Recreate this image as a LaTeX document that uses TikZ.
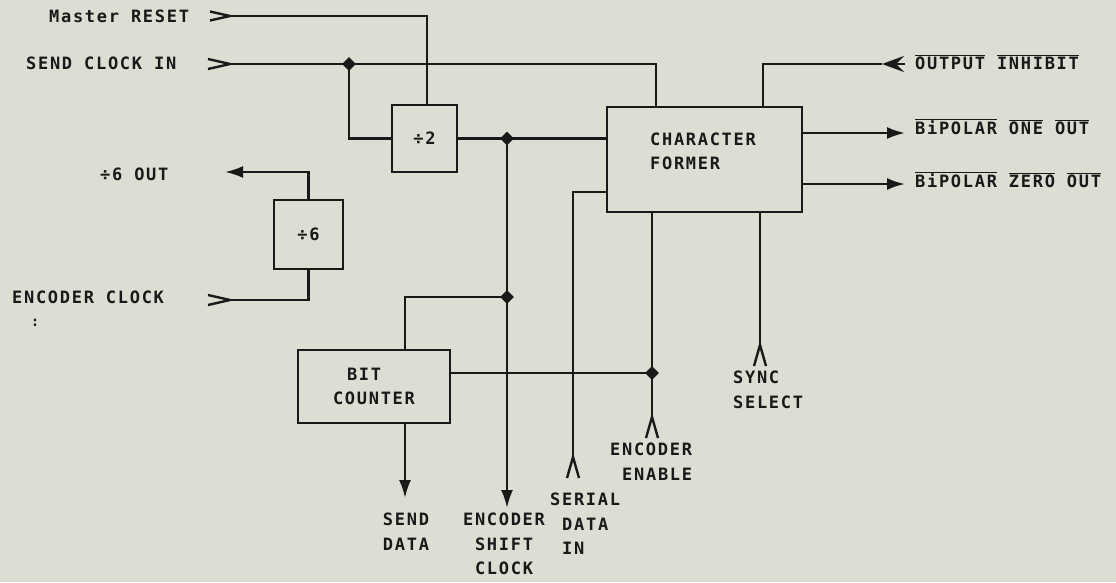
\documentclass[tikz,border=0pt]{standalone}
\usepackage{fontspec}
\setmainfont{DejaVu Sans Mono}[LetterSpace=10]
\usetikzlibrary{arrows.meta,shapes.geometric,calc}
\definecolor{paper}{RGB}{220,222,212}
\definecolor{ink}{RGB}{25,25,25}
\newcommand{\lblfont}{\fontsize{17}{24.5}\selectfont\bfseries}
\newcommand{\ovl}[1]{$\overline{\mbox{#1}}$}
\begin{document}
\begin{tikzpicture}[x=1pt,y=-1pt,
  wire/.style={draw=ink,line width=2.4pt},
  thinwire/.style={draw=ink,line width=1.4pt},
  blk/.style={draw=ink,line width=2.4pt,rectangle,inner sep=0pt,outer sep=0pt,font=\lblfont,text=ink},
  lbl/.style={font=\lblfont,text=ink,inner sep=0pt},
  jdot/.style={diamond,fill=ink,inner sep=0pt,minimum size=14pt},
  outarr/.style={-{Latex[length=18pt,width=12pt]}},
  inarr/.style={-{Stealth[length=22pt,width=16pt,inset=8pt]}},
]
\fill[paper] (0,0) rectangle (1116,582);
\useasboundingbox (0,0) rectangle (1116,582);

% blocks
\node[blk,minimum width=65pt,minimum height=67pt] (div2) at (424.5,138.5) {÷2};
\node[blk,minimum width=69pt,minimum height=69pt] (div6) at (308.5,234.5) {÷6};
\node[blk,minimum width=195pt,minimum height=105pt] (cf) at (704.5,159.5) {};
\node[lbl,align=left] (cftext) at (703,151.5) {CHARACTER\\FORMER};
\node[blk,minimum width=152pt,minimum height=73pt,align=left] (bc) at (374,386.5) {\hspace*{14pt}BIT\\COUNTER};

% labels
\node[lbl,anchor=base west] (mr) at (49,22) {Master RESET};
\node[lbl,anchor=base west] (sc) at (26,69) {SEND CLOCK IN};
\node[lbl,anchor=base west] (ec) at (12,303) {ENCODER CLOCK};
\node[lbl,font=\fontsize{14}{14}\selectfont\bfseries] (colon) at (35,323) {:};
\node[lbl,anchor=base west] (d6o) at (100,180) {÷6 OUT};
\node[lbl,anchor=base west] (oi) at (915,69) {\ovl{OUTPUT} \ovl{INHIBIT}};
\node[lbl,anchor=base west] (b1) at (915,134) {\ovl{BiPOLAR} \ovl{ONE} \ovl{OUT}};
\node[lbl,anchor=base west] (b0) at (915,187) {\ovl{BiPOLAR} \ovl{ZERO} \ovl{OUT}};
\node[lbl,anchor=north,align=center] (sd) at (406,513) {SEND\\DATA};
\node[lbl,anchor=north,align=center] (esc) at (504,513) {ENCODER\\SHIFT\\CLOCK};
\node[lbl,anchor=north west,align=left] (sdi) at (550,493) {SERIAL\\\hspace*{12pt}DATA\\\hspace*{12pt}IN};
\node[lbl,anchor=north west,align=left] (ee) at (610,443) {ENCODER\\\hspace*{12pt}ENABLE};
\node[lbl,anchor=north west,align=left] (ss) at (733,371) {SYNC\\SELECT};

% free ends
\coordinate (mrin) at (230,16);
\coordinate (scin) at (230,64);
\coordinate (ecin) at (230,300);
\coordinate (d6tip) at (225,172);
\coordinate (sdtip) at (405,498);
\coordinate (esctip) at (507,508);
\coordinate (sdin) at (573,457);
\coordinate (eein) at (652,417);
\coordinate (ssin) at (760,345);
\coordinate (oitip) at (882,64);
\coordinate (oiend) at (905,64);
\coordinate (b1tip) at (905,133);
\coordinate (b0tip) at (905,184);

% junctions
\coordinate (d1) at (349,64);
\coordinate (d2) at (esctip |- div2.east);
\coordinate (d3) at (507,297);
\coordinate (d4) at (652,373);

% master reset
\draw[thinwire] (mrin) -| ($(div2.north west)+(35,0)$);
\draw[wire] (mrin) ++(-20,-4.5) -- (mrin) -- ++(-20,4.5);
% send clock in
\draw[wire] (scin) -| ($(cf.north west)+(49,0)$);
\draw[wire] (scin) ++(-22,-5) -- (scin) -- ++(-22,5);
\draw[wire] (d1) |- (div2.west);
% divide by 2 output
\draw[wire] (div2.east) -- (div2.east -| cf.west);
\draw[wire,outarr] (d2) -- (esctip);
\draw[wire] (d3) -| (bc.north -| sdtip);
\draw[wire,outarr] (bc.south -| sdtip) -- (sdtip);
% serial data in
\draw[wire] (sdin) |- ($(cf.south west)+(0,-20)$);
\draw[wire] (sdin) ++(-6,21) -- (sdin) -- ++(6,21);
% encoder enable
\draw[wire] (eein) -- (cf.south -| eein);
\draw[wire] (eein) ++(-6,21) -- (eein) -- ++(6,21);
\draw[wire] (bc.east |- d4) -- (d4);
% sync select
\draw[wire] (ssin) -- (cf.south -| ssin);
\draw[wire] (ssin) ++(-6,21) -- (ssin) -- ++(6,21);
% output inhibit
\draw[wire] (oitip) -| ($(cf.north west)+(156,0)$);
\draw[wire,inarr] (oiend) -- (oitip);
% bipolar outputs
\draw[wire,outarr] (cf.east |- b1tip) -- (b1tip);
\draw[wire,outarr] (cf.east |- b0tip) -- (b0tip);
% divide by 6
\draw[wire,outarr] (div6.north) |- (d6tip);
\draw[wire] (ecin) -| (div6.south);
\draw[wire] (ecin) ++(-22,-5) -- (ecin) -- ++(-22,5);

% junction dots
\foreach \d in {d1,d2,d3,d4} \node[jdot] at (\d) {};
\end{tikzpicture}
\end{document}
